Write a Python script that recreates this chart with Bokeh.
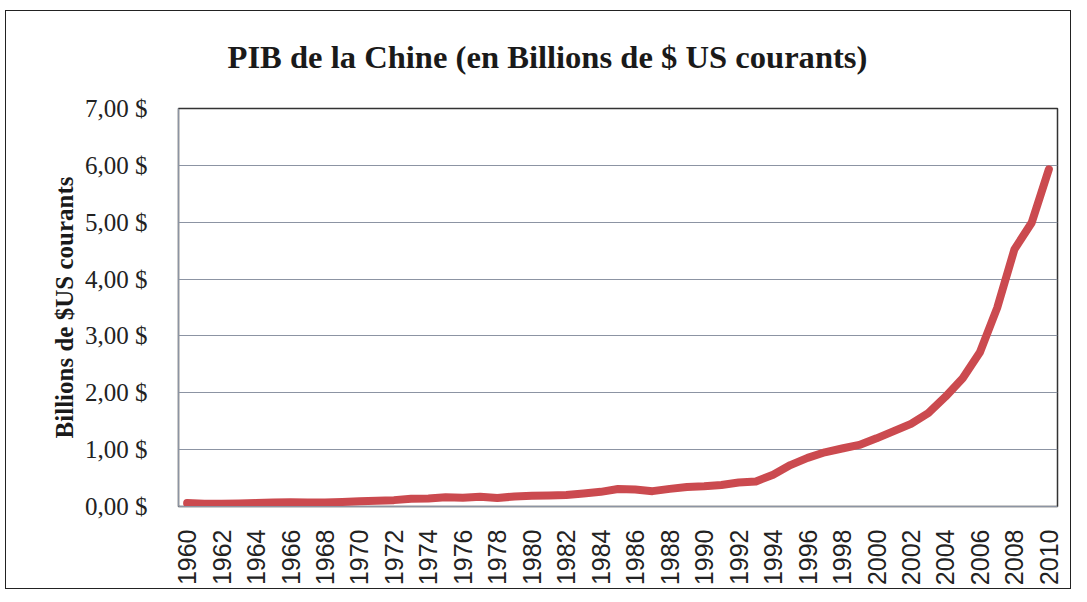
from bokeh.plotting import figure
from bokeh.models import FixedTicker, Range1d, Title
from bokeh.embed import file_html
from bokeh.resources import INLINE
import math

years = list(range(1960, 2011))
gdp = [0.060, 0.050, 0.047, 0.051, 0.060, 0.070, 0.076, 0.072, 0.070, 0.079,
       0.092, 0.099, 0.112, 0.137, 0.142, 0.162, 0.152, 0.172, 0.148, 0.177,
       0.189, 0.194, 0.203, 0.229, 0.258, 0.307, 0.298, 0.270, 0.310, 0.344,
       0.357, 0.379, 0.423, 0.441, 0.559, 0.728, 0.856, 0.953, 1.020, 1.083,
       1.199, 1.325, 1.454, 1.641, 1.932, 2.257, 2.713, 3.494, 4.522, 4.991,
       5.931]
y_ticks = [0, 1, 2, 3, 4, 5, 6, 7]
y_tick_labels = ["0,00 $", "1,00 $", "2,00 $", "3,00 $", "4,00 $", "5,00 $", "6,00 $", "7,00 $"]
x_ticks = years[::2]
title_text = "PIB de la Chine (en Billions de $ US courants)"
y_title = "Billions de $US courants"

p = figure(frame_width=879, frame_height=398, output_backend="svg", toolbar_location=None,
           x_range=Range1d(1959.5, 2010.5), y_range=Range1d(0, 7), title=None,
           min_border_left=172, min_border_right=13, min_border_top=97, min_border_bottom=79)
p.styles = {"border": "1px solid #222"}
p.margin = (10, 0, 0, 5)

spacer = Title(text=" ", text_font_size="16px")
p.add_layout(spacer, "above")
main_title = Title(text=title_text, text_font="Liberation Serif", text_font_size="32.6px",
                   text_font_style="bold", text_color="#1a1a1a", align="left", offset=49)
p.add_layout(main_title, "above")

p.line(years, gdp, line_color="#cb4a4f", line_width=8, line_cap="round", line_join="round")

p.outline_line_color = "#333333"
p.outline_line_width = 1.5
p.background_fill_color = "white"
p.border_fill_color = "white"

p.xgrid.grid_line_color = None
p.ygrid.grid_line_color = "#8c94a3"
p.ygrid.grid_line_width = 1
p.ygrid.ticker = FixedTicker(ticks=y_ticks)

p.yaxis.ticker = FixedTicker(ticks=y_ticks)
p.yaxis.major_label_overrides = {t: l for t, l in zip(y_ticks, y_tick_labels)}
p.yaxis.major_label_text_font = "Liberation Serif"
p.yaxis.major_label_text_font_size = "25px"
p.yaxis.major_label_text_color = "#222222"
p.yaxis.major_label_standoff = 25
p.yaxis.major_tick_line_color = None
p.yaxis.minor_tick_line_color = None
p.yaxis.axis_line_color = "#8c94a3"
p.yaxis.axis_label = y_title
p.yaxis.axis_label_text_font = "Liberation Serif"
p.yaxis.axis_label_text_font_size = "25px"
p.yaxis.axis_label_text_font_style = "bold"
p.yaxis.axis_label_text_color = "#1a1a1a"
p.yaxis.axis_label_standoff = 4

p.xaxis.ticker = FixedTicker(ticks=x_ticks)
p.xaxis.major_label_orientation = math.pi / 2
p.xaxis.major_label_text_font = "Liberation Sans"
p.xaxis.major_label_text_font_size = "25px"
p.xaxis.major_label_text_color = "#222222"
p.xaxis.major_label_standoff = 17
p.xaxis.major_tick_line_color = None
p.xaxis.minor_tick_line_color = None
p.xaxis.axis_line_color = "#8c94a3"

open("out.html", "w").write(file_html(p, INLINE))
